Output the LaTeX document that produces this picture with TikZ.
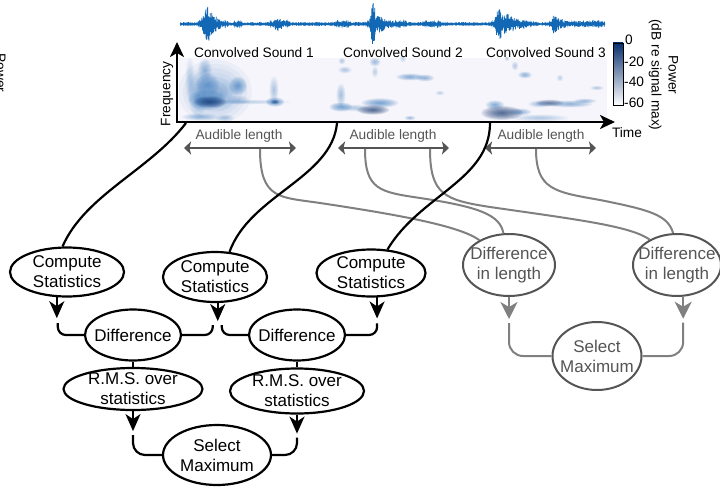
\documentclass[tikz,border=0pt]{standalone}
\usepackage{fontspec}
\setmainfont{Liberation Sans}
\usetikzlibrary{arrows.meta,shapes.geometric,calc}
\definecolor{wave}{RGB}{18,104,180}
\definecolor{specmid}{RGB}{40,112,186}
\definecolor{specdark}{RGB}{8,44,105}
\definecolor{specbg}{RGB}{246,245,251}
\definecolor{cbtop}{RGB}{8,48,110}
\definecolor{cbmid}{RGB}{50,125,195}
\definecolor{gline}{RGB}{128,128,128}
\definecolor{gdark}{RGB}{85,85,85}
\newcommand\sblob[6]{%
  \foreach \k in {1,...,8}{%
    \pgfmathsetmacro\rx{#3*(1.3-0.15*\k)}%
    \pgfmathsetmacro\ry{#4*(1.3-0.15*\k)}%
    \pgfmathsetmacro\op{#5*0.13}%
    \fill[#6, opacity=\op] (#1,#2) ellipse (\rx pt and \ry pt);
  }%
}
\tikzset{
  proc/.style={ellipse, draw=black, line width=2.2pt, inner sep=0pt},
  gproc/.style={ellipse, draw=gdark, line width=2pt, inner sep=0pt},
  lab/.style={align=center, font=\fontsize{17}{20}\selectfont, text=black},
  glab/.style={align=center, font=\fontsize{17}{20}\selectfont, text=gdark},
  conn/.style={draw=black, line width=2.2pt},
  arr/.style={conn, -{Stealth[length=17pt,width=15pt,inset=5pt]}},
  gconn/.style={draw=gline, line width=2pt},
  garr/.style={gconn, -{Stealth[length=17pt,width=17pt,inset=5pt]}},
  small/.style={font=\fontsize{13.7}{17}\selectfont},
  audarr/.style={draw=gdark, line width=2.5pt, {Stealth[length=7pt,width=13pt,inset=1.5pt]}-{Stealth[length=7pt,width=13pt,inset=1.5pt]}},
  axisline/.style={draw=black, line width=2.5pt, {Stealth[length=15pt,width=14pt,inset=4pt]}-{Stealth[length=15pt,width=14pt,inset=4pt]}},
}
\begin{document}
\begin{tikzpicture}[x=1pt,y=-1pt,
  declare function={
    gs(\x,\c,\w)=exp(-1*min(abs(\x-\c)/\w,3)^2);
    env(\x)=0.7+5*gs(\x,203,3)+14*gs(\x,208,4)+7*gs(\x,215,7)
      +3*gs(\x,238,3)+6*gs(\x,277,4)+3*gs(\x,283,4)
      +2.5*gs(\x,343,5)+18*gs(\x,373,2.5)+8*gs(\x,378,6)+3*gs(\x,388,8)
      +2*gs(\x,403,3)+2.5*gs(\x,432,6)
      +15*gs(\x,499,4)+9*gs(\x,508,7)+4*gs(\x,522,8)
      +10*gs(\x,555,3)+4*gs(\x,561,6)+2.5*gs(\x,582,14);
  }]
\useasboundingbox (0,0) rectangle (720,487);
\fill[white] (0,0) rectangle (720,487);

% stray clipped label at left edge
\node[small, rotate=-90, anchor=base, inner sep=0pt] (strayp) at (-4,73) {Power};

% waveform
\pgfmathsetseed{7}
\draw[wave, line width=0.6pt] plot[variable=\t, domain=0:1700, samples=1701]
  ({180+0.25*\t},{24+env(180+0.25*\t)*(1-2*mod(round(\t),2))*(0.2+0.8*rnd)});

% spectrogram
\fill[specbg] (179,58) rectangle (607,121);
\begin{scope}
\clip (179,58) rectangle (607,121);
\sblob{215}{92}{32}{28}{0.4}{specmid}
\sblob{222}{95}{12}{14}{0.3}{specmid}
\sblob{245}{102}{40}{2}{0.3}{specmid}
\sblob{198}{95}{8}{20}{0.45}{specmid}
\sblob{190}{80}{4}{20}{0.3}{specmid}
\sblob{205}{70}{6}{10}{0.5}{specmid}
\sblob{208}{85}{10}{10}{0.8}{specmid}
\sblob{207}{100}{16}{9}{0.9}{specmid}
\sblob{210}{102}{14}{5}{1}{specdark}
\sblob{238}{86}{8}{8}{0.8}{specmid}
\sblob{238}{100}{10}{4}{0.3}{specmid}
\sblob{274}{90}{4}{12}{0.4}{specmid}
\sblob{275}{102}{8}{4}{0.9}{specmid}
\sblob{275}{102}{4}{2}{0.6}{specdark}
\sblob{200}{117}{16}{3}{0.5}{specmid}
\sblob{225}{118}{8}{3}{0.4}{specmid}
\sblob{341}{95}{4}{10}{0.45}{specmid}
\sblob{341}{107}{10}{4}{0.8}{specmid}
\sblob{345}{70}{6}{3}{0.4}{specmid}
\sblob{342}{61}{3}{3}{0.4}{specmid}
\sblob{355}{108}{12}{3}{0.35}{specmid}
\sblob{380}{103}{16}{4}{0.8}{specmid}
\sblob{373}{110}{14}{4}{1}{specdark}
\sblob{375}{62}{5}{4}{0.5}{specmid}
\sblob{375}{72}{3}{5}{0.3}{specmid}
\sblob{410}{77}{12}{3}{0.7}{specmid}
\sblob{425}{78}{8}{3}{0.6}{specmid}
\sblob{410}{118}{5}{2}{0.5}{specmid}
\sblob{440}{93}{4}{2}{0.3}{specmid}
\sblob{403}{58}{3}{4}{0.3}{specmid}
\sblob{540}{118}{25}{3}{0.35}{specmid}
\sblob{495}{105}{8}{4}{0.7}{specmid}
\sblob{520}{112}{10}{3}{0.6}{specmid}
\sblob{502}{113}{18}{6}{1}{specdark}
\sblob{570}{104}{20}{3}{0.6}{specmid}
\sblob{540}{104}{10}{3}{0.5}{specmid}
\sblob{550}{103}{12}{3}{0.7}{specdark}
\sblob{585}{101}{10}{2}{0.5}{specmid}
\sblob{525}{75}{6}{3}{0.6}{specmid}
\sblob{515}{66}{3}{4}{0.35}{specmid}
\sblob{507}{58}{2}{3}{0.4}{specmid}
\sblob{560}{78}{3}{3}{0.3}{specmid}
\sblob{597}{88}{6}{2}{0.35}{specmid}
\end{scope}

% axes
\draw[axisline] (177,42) -- (177,122) -- (615,122);
\node[small, rotate=90] (freq) at (167,94) {Frequency};
\node[small, anchor=base] (time) at (627,137) {Time};
\node[small, anchor=base] (cs1t) at (254,58) {Convolved Sound 1};
\node[small, anchor=base] (cs2t) at (403,58) {Convolved Sound 2};
\node[small, anchor=base] (cs3t) at (546,58) {Convolved Sound 3};

% colorbar
\shade[top color=cbtop, middle color=cbmid, bottom color=white] (613,43) rectangle (623,105);
\draw[line width=0.8pt] (613,43) rectangle (623,105);
\node[small, anchor=west, inner sep=1pt] (c0) at (624,40) {0};
\node[small, anchor=west, inner sep=1pt] (c20) at (623,62) {-20};
\node[small, anchor=west, inner sep=1pt] (c40) at (623,82) {-40};
\node[small, anchor=west, inner sep=1pt] (c60) at (623,103) {-60};
\node[small, rotate=-90, align=center] (pow) at (663.5,75) {Power\\(dB re signal max)};

% audible length
\coordinate (a1l) at (184,148); \coordinate (a1r) at (296,148);
\coordinate (a2l) at (338,148); \coordinate (a2r) at (449,148);
\coordinate (a3l) at (485,148); \coordinate (a3r) at (596,148);
\draw[audarr] (a1l) -- (a1r);
\draw[audarr] (a2l) -- (a2r);
\draw[audarr] (a3l) -- (a3r);
\node[small, text=gdark, anchor=base] (al1) at (239,139) {Audible length};
\node[small, text=gdark, anchor=base] (al2) at (393,139) {Audible length};
\node[small, text=gdark, anchor=base] (al3) at (541,139) {Audible length};
\coordinate (d1) at (260,149);
\coordinate (d2a) at (365,149);
\coordinate (d2b) at (430,149);
\coordinate (d3) at (536,149);

% onsets
\coordinate (on1) at (186,123);
\coordinate (on2) at (337,123);
\coordinate (on3) at (490,123);

% black nodes
\node[proc, minimum width=114pt, minimum height=49pt, label={[lab]center:Compute\\Statistics}] (cs1) at (67,272) {};
\node[proc, minimum width=104pt, minimum height=50pt, label={[lab]center:Compute\\Statistics}] (cs2) at (215,277) {};
\node[proc, minimum width=109pt, minimum height=47pt, label={[lab]center:Compute\\Statistics}] (cs3) at (371,273) {};
\node[proc, minimum width=96pt, minimum height=51pt, label={[lab]center:Difference}] (dfa) at (133,335) {};
\node[proc, minimum width=96pt, minimum height=51pt, label={[lab]center:Difference}] (dfb) at (297,335) {};
\node[proc, minimum width=139pt, minimum height=42pt, label={[lab]center:R.M.S. over\\statistics}] (rmsa) at (133,389) {};
\node[proc, minimum width=134pt, minimum height=45pt, label={[lab]center:R.M.S. over\\statistics}] (rmsb) at (297,391) {};
\node[proc, minimum width=108pt, minimum height=60pt, label={[lab]center:Select\\Maximum}] (smb) at (217,455) {};

% grey nodes
\node[gproc, minimum width=92pt, minimum height=62pt, label={[glab]center:Difference\\in length}] (dl1) at (509,265) {};
\node[gproc, minimum width=88pt, minimum height=62pt, label={[glab]center:Difference\\in length}] (dl2) at (677,265) {};
\node[gproc, minimum width=89pt, minimum height=68pt, label={[glab]center:Select\\Maximum}] (smg) at (597,356) {};

% grey connectors
\draw[gconn] (d1) .. controls (260,200) and (280,197) .. (320,203) .. controls (400,215) and (460,226) .. (dl1.140);
\draw[gconn] (d2a) .. controls (365,190) and (380,192) .. (420,198) .. controls (480,207) and (500,215) .. (dl1.100);
\draw[gconn] (d2b) .. controls (430,195) and (445,200) .. (490,207) .. controls (580,220) and (630,226) .. (dl2.137);
\draw[gconn] (d3) .. controls (536,190) and (555,192) .. (600,200) .. controls (650,210) and (668,215) .. (dl2.97);
\draw[garr] (dl1.south) -- ++(0,22) coordinate (gt1);
\draw[garr] (dl2.-79) -- ++(0,22) coordinate (gt2);
\draw[gconn, rounded corners=14pt] ($(gt1)+(0,4)$) |- (smg.west);
\draw[gconn, rounded corners=14pt] ($(gt2)+(0,4)$) |- (smg.east);

% black connectors
\draw[conn] (on1) .. controls (150,170) and (85,195) .. (cs1.100);
\draw[conn] (on2) .. controls (332,178) and (250,195) .. (cs2.60);
\draw[conn] (on3) .. controls (490,180) and (420,195) .. (cs3.55);
\draw[arr] (cs1.-112) -- ++(0,21) coordinate (t1);
\draw[arr] (cs2.-84) -- ++(0,18) coordinate (t2);
\draw[arr] (cs3.-76) -- ++(0,21) coordinate (t3);
\draw[conn, rounded corners=8pt] ($(t1)+(1,5)$) |- (dfa.west);
\draw[conn, rounded corners=8pt] ($(t2)+(-5,4)$) |- (dfa.east);
\draw[conn, rounded corners=8pt] ($(t2)+(4,4)$) |- (dfb.west);
\draw[conn, rounded corners=8pt] ($(t3)+(0,5)$) |- (dfb.east);
\draw[conn] (dfa.south) -- (rmsa.north);
\draw[conn] (dfb.south) -- (rmsb.north);
\draw[arr] (rmsa.south) -- ++(0,20) coordinate (t4);
\draw[arr] (rmsb.south) -- ++(0,19) coordinate (t5);
\draw[conn, rounded corners=12pt] ($(t4)+(0,4)$) |- (smb.west);
\draw[conn, rounded corners=12pt] ($(t5)+(0,4)$) |- (smb.east);
\end{tikzpicture}
\end{document}
